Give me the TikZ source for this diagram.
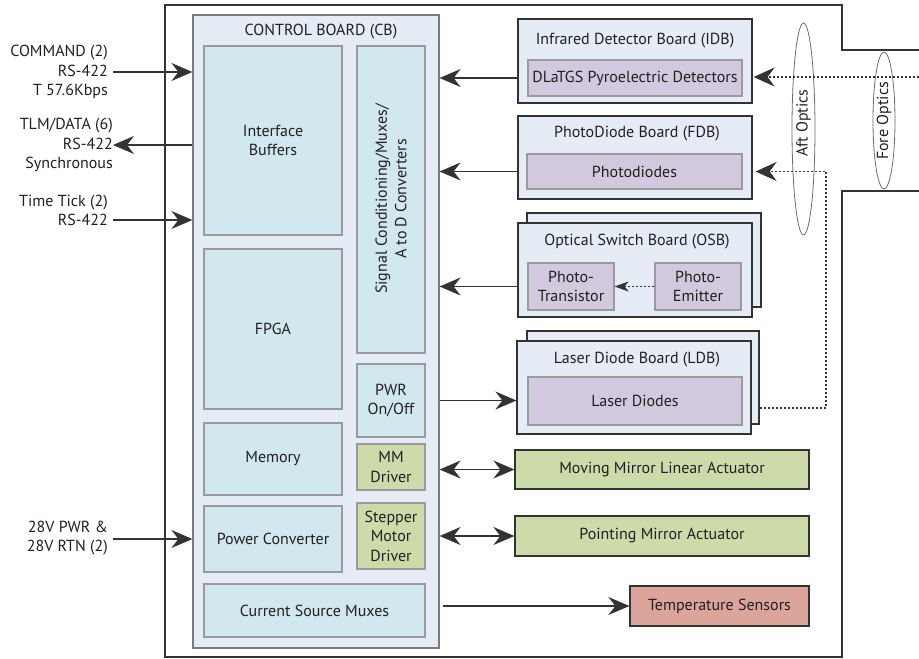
\documentclass[tikz,border=0pt]{standalone}
\usepackage{fontspec}
\setmainfont{PT Sans}
\usetikzlibrary{arrows.meta,fit,shapes.geometric}
\definecolor{txt}{HTML}{231F20}
\definecolor{boardfill}{HTML}{E5ECF6}
\definecolor{cyanfill}{HTML}{D1E8EE}
\definecolor{lavfill}{HTML}{D3C9DF}
\definecolor{greenfill}{HTML}{CDDBAA}
\definecolor{salmonfill}{HTML}{DCA59C}
\definecolor{darkline}{HTML}{333333}
\definecolor{grayline}{HTML}{9A9A9A}
\tikzset{
  lbl/.style={text=txt, inner sep=0pt, align=center},
  cbbox/.style={draw=grayline!80!black, fill=boardfill, line width=1.2pt, inner sep=0pt},
  board/.style={draw=darkline, fill=boardfill, line width=1.2pt, inner sep=0pt},
  inbox/.style={draw=grayline, fill=cyanfill, line width=1.2pt, inner sep=0pt, label={[lbl]center:#1}},
  lavbox/.style={draw=grayline, fill=lavfill, line width=1.2pt, inner sep=0pt, label={[lbl]center:#1}},
  grnbox/.style={draw=grayline, fill=greenfill, line width=1.2pt, inner sep=0pt, label={[lbl]center:#1}},
  extgrn/.style={draw=darkline, fill=greenfill, line width=1.2pt, inner sep=0pt, label={[lbl]center:#1}},
  extsal/.style={draw=darkline, fill=salmonfill, line width=1.2pt, inner sep=0pt, label={[lbl]center:#1}},
  rlbl/.style={text=txt, inner sep=0pt, align=right, anchor=east},
  tip/.tip={Stealth[length=21pt,width=18pt,inset=7pt]},
  arr/.style={draw=darkline, line width=1.6pt, -tip},
  darr/.style={draw=darkline, line width=1.6pt, tip-tip},
  dotarr/.style={draw=darkline, line width=1.8pt, dash pattern=on 2pt off 2pt, -{Stealth[length=21pt,width=19pt,inset=7pt]}},
  dotsmall/.style={draw=darkline, line width=1.2pt, dash pattern=on 2pt off 2pt, -{Stealth[length=14pt,width=10pt,inset=4pt]}},
  optic/.style={draw=grayline!70!black, line width=0.8pt, ellipse, inner sep=0pt}
}
\begin{document}
\begin{tikzpicture}[x=1pt,y=-1pt, font=\fontsize{16}{19.5}\selectfont]
\useasboundingbox (0,0) rectangle (919,659);

% outer instrument outline
\draw[darkline, line width=2.2pt] (919,50) -- (842,50) -- (842,5) -- (165,5) -- (165,657) -- (842,657) -- (842,191) -- (919,191);

% optics
\node[optic, minimum width=23, minimum height=212] (aft) at (803.5,129) {};
\node[lbl, rotate=90] (aftt) at (803.5,123) {Aft Optics};
\node[optic, minimum width=22, minimum height=137] (fore) at (884,120.5) {};
\node[lbl, rotate=90] (foret) at (884,121) {Fore Optics};

% control board
\node[cbbox, fit={(193,15)(439,648)}] (cb) {};
\node[lbl] (cbt) at (321,32) {CONTROL BOARD (CB)};
\node[inbox={Interface\\Buffers}, fit={(204,46)(342,235)}] (ifb) {};
\node[inbox=FPGA, fit={(204,249)(342,409)}] (fpga) {};
\node[inbox=Memory, fit={(204,423)(342,495)}] (mem) {};
\node[inbox={Power Converter}, fit={(204,506)(342,572)}] (pc) {};
\node[inbox={Current Source Muxes}, fit={(204,584)(425,637)}] (csm) {};
\node[inbox={}, fit={(357,46)(425,353)}] (sc) {};
\node[lbl, rotate=90] (sct) at (391,199) {Signal Conditioning/Muxes/\\A to D Converters};
\node[inbox={PWR\\On/Off}, fit={(357,364)(425,437)}] (pwr) {};
\node[grnbox={MM\\Driver}, fit={(357,444)(425,490)}] (mmd) {};
\node[grnbox={Stepper\\Motor\\Driver}, fit={(357,503)(425,569)}] (smd) {};

% IDB
\node[board, fit={(518,19)(752,103)}] (idb) {};
\node[lbl] (idbt) at (635,41) {Infrared Detector Board (IDB)};
\node[lavbox={DLaTGS Pyroelectric Detectors}, fit={(528,60)(742,96)}] (dlat) {};

% FDB
\node[board, fit={(518,116)(752,199)}] (fdb) {};
\node[lbl] (fdbt) at (637,134) {PhotoDiode Board (FDB)};
\node[lavbox=Photodiodes, fit={(527,154)(742,189)}] (pd) {};

% OSB
\node[board, fit={(527,213)(761,307)}] (osbb) {};
\node[board, fit={(518,223)(752,317)}] (osb) {};
\node[lbl] (osbt) at (637,242) {Optical Switch Board (OSB)};
\node[lavbox={Photo-\\Transistor}, fit={(528,263)(614,310)}] (ptr) {};
\node[lavbox={Photo-\\Emitter}, fit={(655,263)(741,310)}] (pem) {};

% LDB
\node[board, fit={(527,331)(759,424)}] (ldbb) {};
\node[board, fit={(517,341)(751,434)}] (ldb) {};
\node[lbl] (ldbt) at (637,360) {Laser Diode Board (LDB)};
\node[lavbox={Laser Diodes}, fit={(528,377)(742,425)}] (ld) {};

% actuators and sensors
\node[extgrn={Moving Mirror Linear Actuator}, fit={(515,450)(809,489)}] (mmla) {};
\node[extgrn={Pointing Mirror Actuator}, fit={(515,516)(809,556)}] (pma) {};
\node[extsal={Temperature Sensors}, fit={(630,586)(809,626)}] (ts) {};

% left labels
\node[rlbl] (cmd) at (108,72) {COMMAND (2)\\RS-422\\T 57.6Kbps};
\node[rlbl] (tlm) at (113,145) {TLM/DATA (6)\\RS-422\\Synchronous};
\node[rlbl] (tt) at (108,210.5) {Time Tick (2)\\RS-422};
\node[rlbl] (pwrin) at (108,538) {28V PWR \&\\28V RTN (2)};
\coordinate (cmdp) at (113,72);
\coordinate (ttp) at (113,220);
\coordinate (pwrp) at (113,539);

% left arrows
\draw[arr] (cmdp) -- (cb.west |- cmdp);
\draw[arr] (cb.west |- tlm) -- (tlm.east);
\draw[arr] (ttp) -- (cb.west |- ttp);
\draw[arr] (pwrp) -- (cb.west |- pwrp);

% board arrows
\draw[arr] (idb.west |- dlat) -- (cb.east |- dlat);
\draw[arr] (fdb.west |- pd) -- (cb.east |- pd);
\draw[arr] (osb.west |- ptr) -- (cb.east |- ptr);
\draw[arr] (cb.east |- pwr) -- (ldb.west |- pwr);
\draw[darr] (cb.east |- mmla) -- (mmla.west);
\draw[darr] (cb.east |- pma) -- (pma.west);
\draw[arr] ([xshift=3pt]cb.east |- ts) -- (ts.west);

% optical paths
\coordinate (light) at (919,77);
\coordinate (lcorner) at (826,408);
\draw[dotarr] (light) -- ([xshift=1pt]idb.east |- light);
\draw[dotarr] (ldbb.east |- lcorner) -- (lcorner) |- ([xshift=3pt]fdb.east |- pd);
\draw[dotsmall] (pem.west) -- (ptr.east);
\end{tikzpicture}
\end{document}
